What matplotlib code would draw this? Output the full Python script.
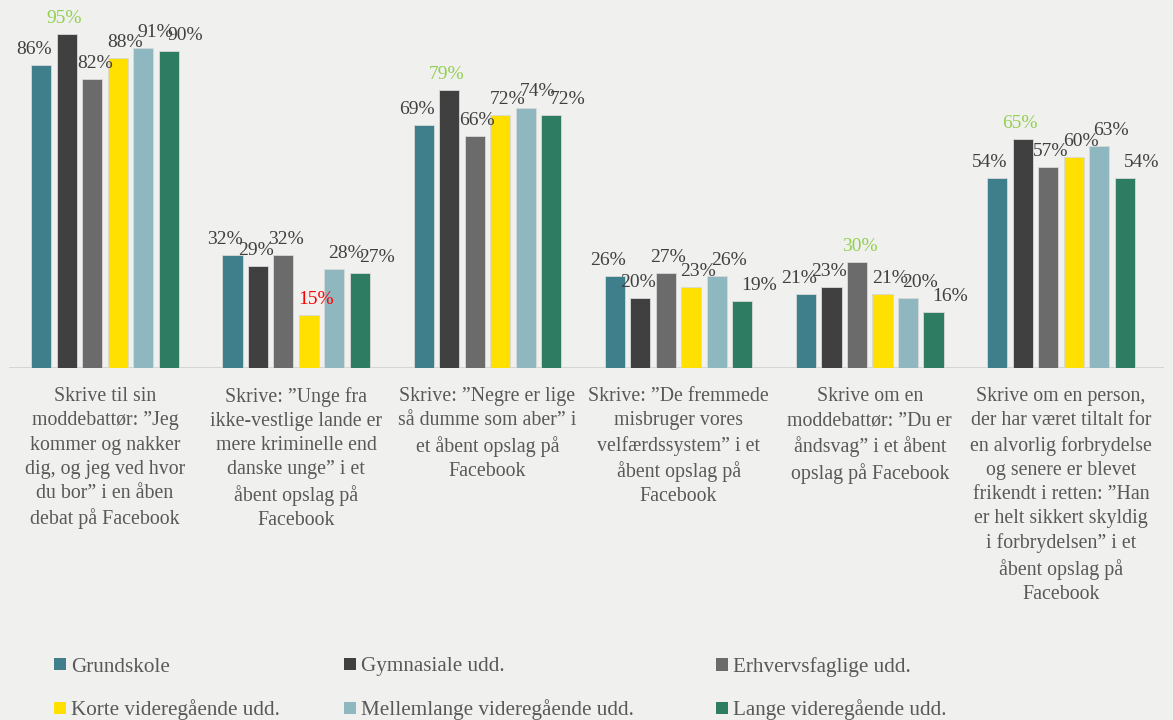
import matplotlib
matplotlib.use("Agg")
import matplotlib.pyplot as plt
import numpy as np
from matplotlib.patches import Patch

plt.rcParams['font.family'] = ['Liberation Serif', 'DejaVu Serif']

categories = [
    "Skrive til sin\nmoddebattør: ”Jeg\nkommer og nakker\ndig, og jeg ved hvor\ndu bor” i en åben\ndebat på Facebook",
    "Skrive: ”Unge fra\nikke-vestlige lande er\nmere kriminelle end\ndanske unge” i et\nåbent opslag på\nFacebook",
    "Skrive: ”Negre er lige\nså dumme som aber” i\net åbent opslag på\nFacebook",
    "Skrive: ”De fremmede\nmisbruger vores\nvelfærdssystem” i et\nåbent opslag på\nFacebook",
    "Skrive om en\nmoddebattør: ”Du er\nåndsvag” i et åbent\nopslag på Facebook",
    "Skrive om en person,\nder har været tiltalt for\nen alvorlig forbrydelse\nog senere er blevet\nfrikendt i retten: ”Han\ner helt sikkert skyldig\ni forbrydelsen” i et\nåbent opslag på\nFacebook",
]
series_names = ["Grundskole", "Gymnasiale udd.", "Erhvervsfaglige udd.",
                "Korte videregående udd.", "Mellemlange videregående udd.",
                "Lange videregående udd."]
grundskole = [86, 32, 69, 26, 21, 54]
gymnasiale = [95, 29, 79, 20, 23, 65]
erhvervsfaglige = [82, 32, 66, 27, 30, 57]
korte = [88, 15, 72, 23, 21, 60]
mellemlange = [91, 28, 74, 26, 20, 63]
lange = [90, 27, 72, 19, 16, 54]
series_values = [grundskole, gymnasiale, erhvervsfaglige, korte, mellemlange, lange]
colors = ["#3E7F8B", "#404040", "#6B6B6B", "#FFE000", "#8FB7BF", "#2E7D62"]

# highlighted labels: (series index, category index) -> color
highlight = {(1, 0): "#92D050", (1, 2): "#92D050", (2, 4): "#92D050",
             (1, 5): "#92D050", (3, 1): "#FF0000"}

bg = "#F0F0EF"
W, H = 1173, 720
fig = plt.figure(figsize=(W / 100, H / 100), dpi=100, facecolor=bg)
ax = fig.add_axes([9.4 / W, 1 - 368 / H, (1164 - 9.4) / W, 352 / H])
ax.set_facecolor(bg)

n = len(categories)
x = np.arange(n)
w = 0.105
step = 0.1333
for i, (vals, c) in enumerate(zip(series_values, colors)):
    pos = x + (i - 2.5) * step
    ax.bar(pos, vals, width=w, color=c, edgecolor="#D9D9D9", linewidth=0.6,
           label=series_names[i], zorder=2)
    for j, v in enumerate(vals):
        col = highlight.get((i, j), "#404040")
        ax.text(pos[j] + (i - 1.5) * 0.025, v + 2.0, f"{v}%", ha="center",
                va="bottom", fontsize=14, color=col, zorder=3)

ax.set_xlim(-0.5, 5.539)
ax.set_ylim(0, 100)
for s in ax.spines.values():
    s.set_visible(False)
ax.axhline(0, color="#D0D0D0", linewidth=1.2, zorder=1)
ax.set_yticks([])
ax.set_xticks(x)
ax.set_xticklabels(categories, fontsize=14.3, color="#595959", linespacing=1.36)
ax.tick_params(axis="x", length=0, pad=14)

# legend: 3 columns x 2 rows, row-wise order
col_x = [54, 344, 716]
row_y = [667, 710]
for k, (name, c) in enumerate(zip(series_names, colors)):
    r, cidx = divmod(k, 3)
    fig.legend([Patch(facecolor=c, edgecolor="none")], [name],
               loc="center left",
               bbox_to_anchor=(col_x[cidx] / W, 1 - row_y[r] / H),
               frameon=False, fontsize=15.2, labelcolor="#595959",
               handlelength=0.55, handleheight=0.55, handletextpad=0.25,
               borderpad=0, borderaxespad=0)

fig.savefig("out.png", dpi=100, facecolor=bg)
